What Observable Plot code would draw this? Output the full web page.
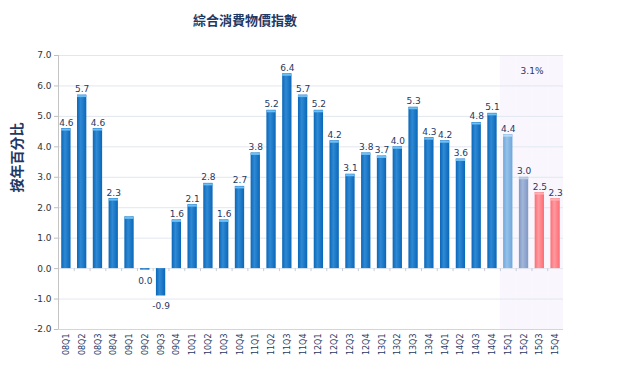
<!DOCTYPE html>
<html><head><meta charset="utf-8">
<script src="https://cdn.jsdelivr.net/npm/d3@7"></script>
<script src="https://cdn.jsdelivr.net/npm/@observablehq/plot@0.6"></script>
<style>
body{margin:0;background:#fff;width:618px;height:373px;overflow:hidden;font-family:"DejaVu Sans",sans-serif}
#title{position:absolute;left:0;top:0;width:490px;height:40px;line-height:40px;text-align:center;font-weight:bold;font-size:13px;font-family:"Noto Sans CJK TC",sans-serif;color:#1f3864}
#chart{position:absolute;left:0;top:40px}
</style></head><body>
<div id="title">綜合消費物價指數</div>
<div id="chart"></div>
<script>
const chartTitle = "綜合消費物價指數";
const yTitle = "按年百分比";
const quarters = ["08Q1","08Q2","08Q3","08Q4","09Q1","09Q2","09Q3","09Q4","10Q1","10Q2","10Q3","10Q4","11Q1","11Q2","11Q3","11Q4","12Q1","12Q2","12Q3","12Q4","13Q1","13Q2","13Q3","13Q4","14Q1","14Q2","14Q3","14Q4","15Q1","15Q2","15Q3","15Q4"];
const values = [4.6,5.7,4.6,2.3,1.7,-0.05,-0.9,1.6,2.1,2.8,1.6,2.7,3.8,5.2,6.4,5.7,5.2,4.2,3.1,3.8,3.7,4.0,5.3,4.3,4.2,3.6,4.8,5.1,4.4,3.0,2.5,2.3];
const labels = ["4.6","5.7","4.6","2.3","","0.0","-0.9","1.6","2.1","2.8","1.6","2.7","3.8","5.2","6.4","5.7","5.2","4.2","3.1","3.8","3.7","4.0","5.3","4.3","4.2","3.6","4.8","5.1","4.4","3.0","2.5","2.3"];
const groups = ["a","a","a","a","a","a","a","a","a","a","a","a","a","a","a","a","a","a","a","a","a","a","a","a","a","a","a","a","b","c","d","d"];
const yTicks = [-2,-1,0,1,2,3,4,5,6,7];
const forecastQuarters = ["15Q1","15Q2","15Q3","15Q4"];
const forecastNote = "3.1%";

const baseColor = {a:"#0a67b8", b:"#6ea7dc", c:"#7f98c6", d:"#ff6b74"};
const lightColor = {a:"#2f89d4", b:"#95c2ea", c:"#a3b6da", d:"#ff9aa0"};
const capColor = {a:"#6cc0f5", b:"#b8dbf6", c:"#c0cfe8", d:"#ffb3b7"};

const data = quarters.map((q,i)=>({q, v: values[i], label: labels[i], group: groups[i]}));

const defsMark = () => {
  const defs = d3.create("svg:defs");
  for (const k of Object.keys(baseColor)) {
    const lg = defs.append("linearGradient").attr("id","g-"+k).attr("x1",0).attr("x2",1).attr("y1",0).attr("y2",0);
    lg.append("stop").attr("offset","0%").attr("stop-color",baseColor[k]);
    lg.append("stop").attr("offset","40%").attr("stop-color",lightColor[k]);
    lg.append("stop").attr("offset","100%").attr("stop-color",baseColor[k]);
  }
  return defs.node();
};

const leftAxisLine = (index, scales, values, dims) => {
  const g = d3.create("svg:line")
    .attr("x1", dims.marginLeft + 0.5).attr("x2", dims.marginLeft + 0.5)
    .attr("y1", scales.y(7)).attr("y2", scales.y(-2))
    .attr("stroke", "#c4c4c4");
  return g.node();
};

const plot = Plot.plot({
  width: 618, height: 333,
  marginLeft: 58, marginRight: 55, marginTop: 15, marginBottom: 44,
  style: {fontFamily: "DejaVu Sans, sans-serif", fontSize: "9px", overflow: "visible", background: "transparent"},
  x: {type: "band", domain: quarters, paddingInner: 0.41, paddingOuter: 0.205, round: false},
  y: {domain: [-2, 7]},
  marks: [
    defsMark,
    Plot.barY(forecastQuarters, {x: d=>d, y1: -2, y2: 7, fill: "#f9f7fd", insetLeft: -3.25, insetRight: -3.25}),
    Plot.ruleY(yTicks.filter(t=>t!==-2), {stroke: "#e2e7ef"}),
    Plot.ruleY([-2], {stroke: "#c6d8ee"}),
    Plot.ruleX(quarters, {x: d=>d, y1: 0, y2: -0.1, dx: -7.88, stroke: "#c8ccd4"}),
    leftAxisLine,
    Plot.barY(data, {x: "q", y: "v", fill: d => `url(#g-${d.group})`}),
    Plot.tickY(data.filter(d=>d.v>0), {x: "q", y: "v", stroke: d => capColor[d.group], strokeWidth: 2, dy: 1}),
    Plot.text(data.filter(d=>d.v>=0), {x: "q", y: "v", text: "label", lineAnchor: "bottom", dy: -3, fontSize: 9, fill: "#1f3864"}),
    Plot.text(data.filter(d=>d.v<0), {x: "q", y: "v", text: "label", lineAnchor: "top", dy: 7, fontSize: 9, fill: "#1f3864"}),
    Plot.text([{q: "15Q2", t: forecastNote}], {x: "q", y: 6.5, text: "t", dx: 8, fontSize: 9, fill: "#1f3864"}),
    Plot.text([yTitle], {frameAnchor: "left", dx: -41, rotate: -90, fontSize: 14, fontWeight: "bold", fill: "#1f3864", fontFamily: "Noto Sans CJK TC"}),
    Plot.axisY({ticks: yTicks, tickFormat: d => d.toFixed(1), tickSize: 4, stroke: "#bfbfbf", fill: "#333", fontSize: 9, tickPadding: 3, label: null}),
    Plot.axisX({tickRotate: -90, tickSize: 0, tickPadding: 4, fontSize: 8, fill: "#1f3864", label: null})
  ]
});
document.getElementById("chart").append(plot);
</script>
</body></html>
